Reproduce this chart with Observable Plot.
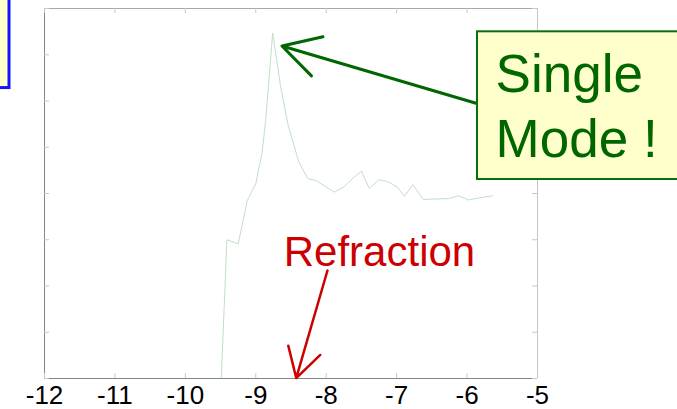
<!DOCTYPE html>
<html>
<head>
<meta charset="utf-8">
<script src="https://cdn.jsdelivr.net/npm/d3@7"></script>
<script src="https://cdn.jsdelivr.net/npm/@observablehq/plot@0.6"></script>
<style>
  html, body { margin: 0; padding: 0; background: #fff; }
  #chart { width: 677px; height: 409px; overflow: hidden; }
</style>
</head>
<body>
<div id="chart"></div>
<script>
// Measured response vs. x (log scale units)
const xValues = [-12, -9.49, -9.41, -9.25, -9.12, -9.00, -8.91, -8.86, -8.76, -8.65, -8.54, -8.39,
  -8.26, -8.14, -7.89, -7.75, -7.61, -7.50, -7.39, -7.25, -7.13, -6.99, -6.89, -6.77, -6.62,
  -6.47, -6.26, -6.12, -5.98, -5.81, -5.64];
const yValues = [0, 0, 3.00, 2.91, 3.85, 4.21, 4.89, 5.58, 7.47, 6.34, 5.47, 4.69,
  4.32, 4.28, 4.03, 4.14, 4.35, 4.48, 4.11, 4.30, 4.26, 4.14, 3.94, 4.19, 3.87,
  3.88, 3.89, 3.95, 3.86, 3.91, 3.95];

const xTicks = [-12, -11, -10, -9, -8, -7, -6, -5];
const xTickLabels = ["-12", "-11", "-10", "-9", "-8", "-7", "-6", "-5"];
const yTicks = [0, 1, 2, 3, 4, 5, 6, 7, 8];

const calloutText = ["Single", "Mode !"];
const refractionText = "Refraction";

const series = xValues.map((x, i) => ({x, y: yValues[i]}));

const chart = Plot.plot({
  width: 677,
  height: 409,
  marginLeft: 44,
  marginRight: 140,
  marginTop: 8,
  marginBottom: 31,
  x: {domain: [-12, -5], label: null},
  y: {domain: [0, 8], axis: null},
  style: {fontFamily: "'Liberation Sans', Arial, sans-serif", background: "#fff"},
  marks: [
    // the trace
    Plot.line(series, {x: "x", y: "y", stroke: "#c2e0c2", strokeWidth: 1}),

    // box edges
    Plot.ruleY([8], {stroke: "#a8a8a8"}),
    Plot.ruleX([-5], {stroke: "#c6c6c6"}),
    Plot.ruleX([-12], {stroke: "#858585"}),
    Plot.ruleY([0], {stroke: "#7f8a7f"}),

    // inward tick marks on all four sides
    Plot.tickX(xTicks, {x: d => d, insetTop: 365, stroke: "#c8c8c8"}),
    Plot.tickX(xTicks, {x: d => d, insetBottom: 365, stroke: "#c8c8c8"}),
    Plot.tickY(yTicks, {y: d => d, insetRight: 488, stroke: "#c8c8c8"}),
    Plot.tickY(yTicks, {y: d => d, insetLeft: 488, stroke: "#c8c8c8"}),

    Plot.axisX(xTicks, {
      label: null,
      tickSize: 0,
      tickPadding: 7,
      fontSize: 26,
      fill: "#000",
      tickFormat: d => xTickLabels[xTicks.indexOf(d)]
    }),

    // partially visible note box at the top left
    Plot.rect([0], {x1: -12.8, x2: -12.497, y1: 6.28, y2: 8.6, fill: "#ffffcc", stroke: "#1414ff", strokeWidth: 3}),

    // "Single Mode !" callout
    Plot.arrow([0], {
      x1: -5.80, y1: 5.92, x2: -8.628, y2: 7.19,
      stroke: "#006600", strokeWidth: 3, headLength: 21, headAngle: 58, strokeLinecap: "round"
    }),
    Plot.rect([0], {x1: -5.852, x2: -2.5, y1: 4.303, y2: 7.496, fill: "#ffffcc", stroke: "#0a6e0a", strokeWidth: 2}),
    Plot.text([calloutText.join("\n")], {
      x: -5.595, y: 4.785, text: d => d,
      textAnchor: "start", lineAnchor: "bottom", lineHeight: 1.23,
      fontSize: 53, fill: "#006600"
    }),

    // "Refraction" label and arrow
    Plot.text([refractionText], {
      x: -7.244, y: 2.443, text: d => d,
      textAnchor: "middle", lineAnchor: "bottom",
      fontSize: 42, fill: "#cc0000"
    }),
    Plot.arrow([0], {
      x1: -7.982, y1: 2.335, x2: -8.426, y2: 0.01,
      stroke: "#cc0000", strokeWidth: 2.5, headLength: 20, headAngle: 60, strokeLinecap: "round"
    })
  ]
});

document.getElementById("chart").appendChild(chart);
</script>
</body>
</html>
